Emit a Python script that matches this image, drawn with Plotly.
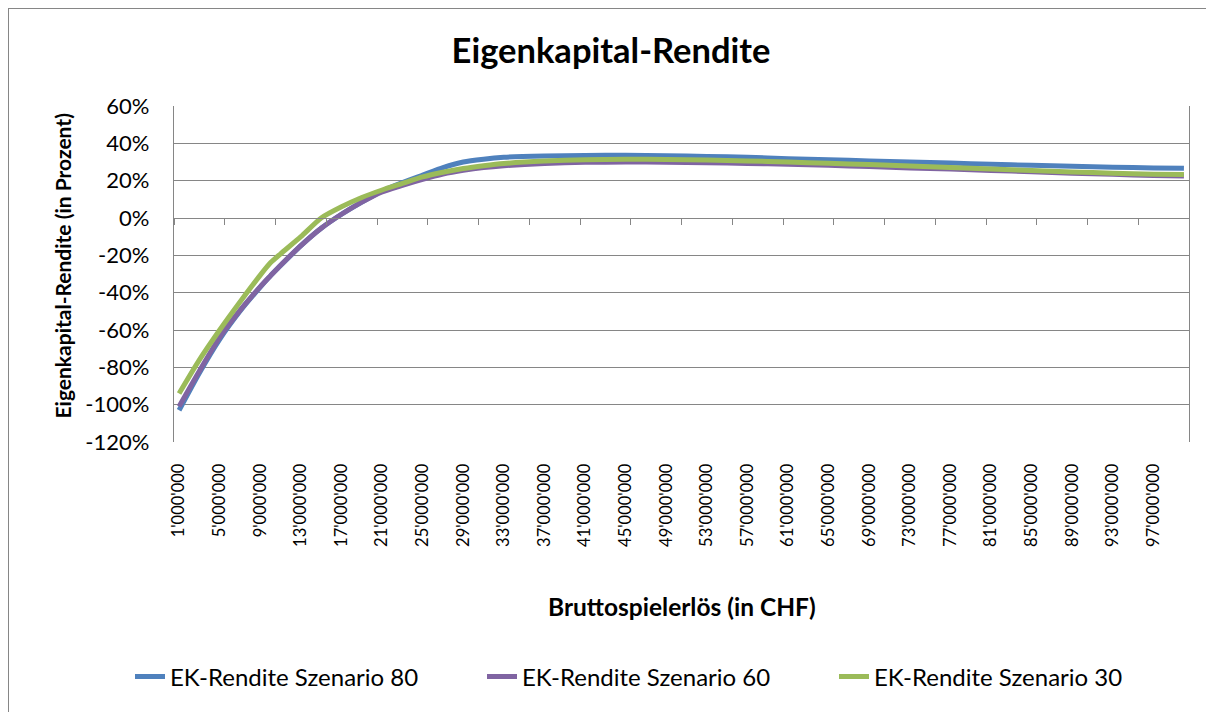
import plotly.graph_objects as go

# x values in millions CHF
x_mio = [1, 3, 5, 7, 9, 10, 11, 13, 15, 17, 19, 21, 23, 25, 27, 29, 31, 33, 37, 41, 45,
         49, 53, 57, 61, 65, 69, 73, 77, 81, 85, 89, 93, 97, 100]

sz80 = [-103, -83, -65, -50, -37, -31, -25.5, -14.8, -5.5, 2, 8.5, 14.5, 19, 23, 27, 30, 31.5,
        32.5, 33.2, 33.5, 33.6, 33.4, 33, 32.5, 31.8, 31.2, 30.6, 30, 29.4, 28.8, 28.2, 27.7,
        27.2, 26.8, 26.6]
sz60 = [-101, -82, -64, -49.5, -36.8, -31, -25.3, -14.8, -5.5, 2, 8.5, 14, 17.5, 20.7, 23.5,
        25.5, 27, 28, 29.2, 29.8, 30, 29.9, 29.6, 29.2, 28.8, 28.2, 27.6, 26.8, 26.2, 25.5, 24.8,
        24, 23.4, 22.8, 22.5]
sz30 = [-94, -76, -60, -45, -30.6, -24, -19.2, -10, 0, 6, 11, 15, 18.5, 22, 24.5, 26.5, 28,
        29.2, 30.5, 31.2, 31.5, 31.4, 31.1, 30.6, 30, 29.3, 28.6, 27.8, 27, 26.2, 25.4, 24.7,
        24, 23.5, 23.3]

series_names = ["EK-Rendite Szenario 80", "EK-Rendite Szenario 60", "EK-Rendite Szenario 30"]
series_vals = [sz80, sz60, sz30]
colors = ["#4F81BD", "#8064A2", "#9BBB59"]

label_vals = list(range(1, 98, 4))
label_text = ["{}'000'000".format(v) for v in label_vals]
tick_marks = [0.5 + 5 * i for i in range(21)]

y_ticks = list(range(-120, 61, 20))

FONT = "Lato"
GRID = "#868686"

fig = go.Figure()
for name, vals, col in zip(series_names, series_vals, colors):
    fig.add_trace(go.Scatter(x=x_mio, y=vals, mode="lines", name=name,
                             line=dict(color=col, width=5, shape="spline", smoothing=0.6)))
# helper (empty) trace for the tick-mark axis crossing at 0 %
fig.add_trace(go.Scatter(x=[], y=[], xaxis="x2", showlegend=False, hoverinfo="skip"))

OFF = 8  # page body margin
W, H = 1214 - OFF, 712 - OFF
L, R, T, B = 166, 25, 98, 270
pw, ph = W - L - R, H - T - B

def px(xp):  # page x -> paper x
    return (xp - OFF - L) / pw

def py(yp):  # page y -> paper y
    return (H - B - (yp - OFF)) / ph

fig.update_layout(
    width=W, height=H,
    margin=dict(l=L, r=R, t=T, b=B),
    paper_bgcolor="white", plot_bgcolor="white",
    font=dict(family=FONT, color="black"),
    title=dict(text="<b>Eigenkapital-Rendite</b>", x=0.5, xanchor="center",
               yref="container", y=1 - (51 - OFF) / H, yanchor="middle",
               font=dict(size=34.5, family=FONT, color="black")),
    xaxis=dict(range=[0.5, 100.5], tickmode="array", tickvals=label_vals, ticktext=label_text,
               tickangle=-90, tickfont=dict(size=16.5, family=FONT, color="black"),
               showgrid=False, zeroline=False, showline=False,
               ticks="outside", ticklen=14, tickcolor="rgba(0,0,0,0)"),
    xaxis2=dict(range=[0.5, 100.5], overlaying="x", anchor="free", position=120 / 180,
                tickmode="array", tickvals=tick_marks, showticklabels=False,
                ticks="outside", ticklen=6, tickwidth=1.3, tickcolor=GRID,
                showline=True, linecolor=GRID, linewidth=1.3, showgrid=False, zeroline=False),
    yaxis=dict(range=[-120, 60], tickmode="array", tickvals=y_ticks,
               ticktext=["{}%".format(v) for v in y_ticks],
               tickfont=dict(size=22, family=FONT, color="black"),
               showgrid=True, gridcolor=GRID, gridwidth=1.3, zeroline=False,
               showline=True, linecolor=GRID, linewidth=1.3, mirror=True,
               ticks="outside", ticklen=19, tickcolor="rgba(0,0,0,0)"),
    legend=dict(orientation="h", x=px(130), xanchor="left", y=py(677), yanchor="middle",
                font=dict(size=24, family=FONT, color="black"),
                entrywidth=307, entrywidthmode="pixels", bgcolor="rgba(0,0,0,0)"),
    showlegend=True,
)

fig.add_annotation(text="<b>Bruttospielerlös (in CHF)</b>", xref="paper", yref="paper",
                   x=0.5, y=py(606), xanchor="center", yanchor="middle", showarrow=False,
                   font=dict(size=24.5, family=FONT, color="black"))
fig.add_annotation(text="<b>Eigenkapital-Rendite (in Prozent)</b>", xref="paper", yref="paper",
                   x=px(62), y=py(266.5), xanchor="center", yanchor="middle", showarrow=False,
                   textangle=-90, font=dict(size=21, family=FONT, color="black"))

# outer chart border (left and top edges visible)
fig.add_shape(type="line", xref="paper", yref="paper", x0=px(8), y0=py(8), x1=px(8), y1=py(H + 20),
              line=dict(color=GRID, width=2))
fig.add_shape(type="line", xref="paper", yref="paper", x0=px(8), y0=py(8), x1=px(W + 20), y1=py(8),
              line=dict(color=GRID, width=2))

fig.write_html("out.html")
